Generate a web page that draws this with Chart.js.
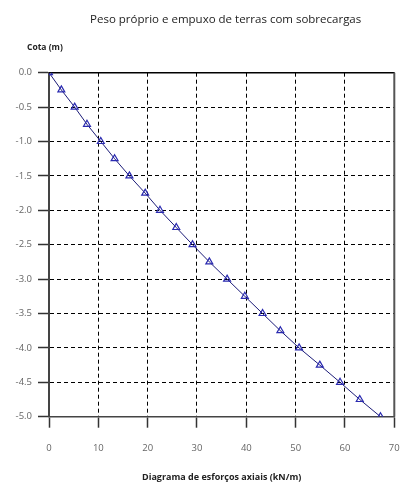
<!DOCTYPE html>
<html>
<head>
<meta charset="utf-8">
<script src="https://cdn.jsdelivr.net/npm/chart.js@4"></script>
<style>
  html, body { margin: 0; padding: 0; background: #fff; }
  #wrap { width: 406px; height: 496px; }
</style>
</head>
<body>
<div id="wrap"><canvas id="chart" width="406" height="496"></canvas></div>
<script>
// cota (m) e esforço axial (kN/m)
const cotas = [0, -0.25, -0.5, -0.75, -1.0, -1.25, -1.5, -1.75, -2.0, -2.25, -2.5,
               -2.75, -3.0, -3.25, -3.5, -3.75, -4.0, -4.25, -4.5, -4.75, -5.0];
const esforcos = [0, 2.5, 5.2, 7.7, 10.5, 13.3, 16.3, 19.5, 22.5, 25.8, 29.1,
                  32.5, 36.1, 39.7, 43.3, 46.9, 50.7, 54.9, 59.0, 63.0, 67.2];

const titulo = 'Peso próprio e empuxo de terras com sobrecargas';
const tituloY = 'Cota (m)';
const tituloX = 'Diagrama de esforços axiais (kN/m)';

const FONT = "'Open Sans', 'DejaVu Sans', sans-serif";

const textPlugin = {
    id: 'textos',
    beforeDatasetsDraw(chart) {
        // solid top and right edges of the plot frame
        const ctx = chart.ctx;
        const a = chart.chartArea;
        ctx.save();
        ctx.lineWidth = 1.5;
        ctx.strokeStyle = '#000';
        ctx.beginPath();
        ctx.moveTo(a.left, a.top);
        ctx.lineTo(a.right, a.top);
        ctx.stroke();
        ctx.lineWidth = 2;
        ctx.strokeStyle = '#555';
        ctx.beginPath();
        ctx.moveTo(a.right, a.top);
        ctx.lineTo(a.right, a.bottom);
        ctx.stroke();
        ctx.restore();
    },
    afterDraw(chart) {
        // titles drawn by hand so they sit where the reference has them
        const ctx = chart.ctx;
        const area = chart.chartArea;
        ctx.save();
        ctx.fillStyle = '#222';
        ctx.textBaseline = 'middle';
        ctx.textAlign = 'center';
        ctx.font = '11.5px ' + FONT;
        ctx.fillText(titulo, (area.left + area.right) / 2 + 4, 20);
        ctx.textAlign = 'left';
        ctx.font = 'bold 8.5px ' + FONT;
        ctx.fillText(tituloY, 27, 48);
        ctx.restore();
    }
};

new Chart(document.getElementById('chart'), {
    type: 'scatter',
    data: {
        datasets: [{
            data: esforcos.map((x, i) => ({x: x, y: cotas[i]})),
            showLine: true,
            borderColor: '#1c1c78',
            borderWidth: 1,
            pointStyle: 'triangle',
            pointRadius: 4,
            pointBorderColor: '#2a2ab0',
            pointBackgroundColor: 'rgba(255,255,255,0)',
            pointBorderWidth: 1.2
        }]
    },
    options: {
        responsive: false,
        animation: false,
        layout: {padding: {top: 72.7, right: 11.7, left: 0, bottom: 0}},
        plugins: {
            legend: {display: false},
            tooltip: {enabled: false},
            title: {display: false}
        },
        scales: {
            x: {
                type: 'linear',
                min: 0,
                max: 70,
                ticks: {
                    stepSize: 10,
                    color: '#666',
                    font: {family: FONT, size: 9.5},
                    padding: 15,
                    maxRotation: 0
                },
                grid: {
                    color: '#000',
                    lineWidth: 1,
                    tickLength: 11,
                    tickColor: '#333',
                    tickWidth: 1.5,
                    tickBorderDash: []
                },
                border: {display: true, color: '#444', width: 1.5, dash: [4, 3]},
                title: {
                    display: true,
                    text: tituloX,
                    color: '#222',
                    font: {family: FONT, size: 9, weight: 'bold'},
                    padding: {top: 0, bottom: 13}
                },
                afterFit: (scale) => {
                    scale.height = 79.3;
                    scale.paddingLeft = 0;
                    scale.paddingRight = 0;
                }
            },
            y: {
                type: 'linear',
                min: -5,
                max: 0,
                ticks: {
                    stepSize: 0.5,
                    color: '#666',
                    font: {family: FONT, size: 9.5},
                    padding: 6,
                    callback: (v) => Number(v).toFixed(1)
                },
                grid: {
                    color: '#000',
                    lineWidth: 1,
                    tickLength: 11,
                    tickColor: '#333',
                    tickWidth: 1.5,
                    tickBorderDash: []
                },
                border: {display: true, color: '#444', width: 2, dash: [4, 3]},
                afterFit: (scale) => { scale.width = 49; }
            }
        }
    },
    plugins: [textPlugin]
});
</script>
</body>
</html>
